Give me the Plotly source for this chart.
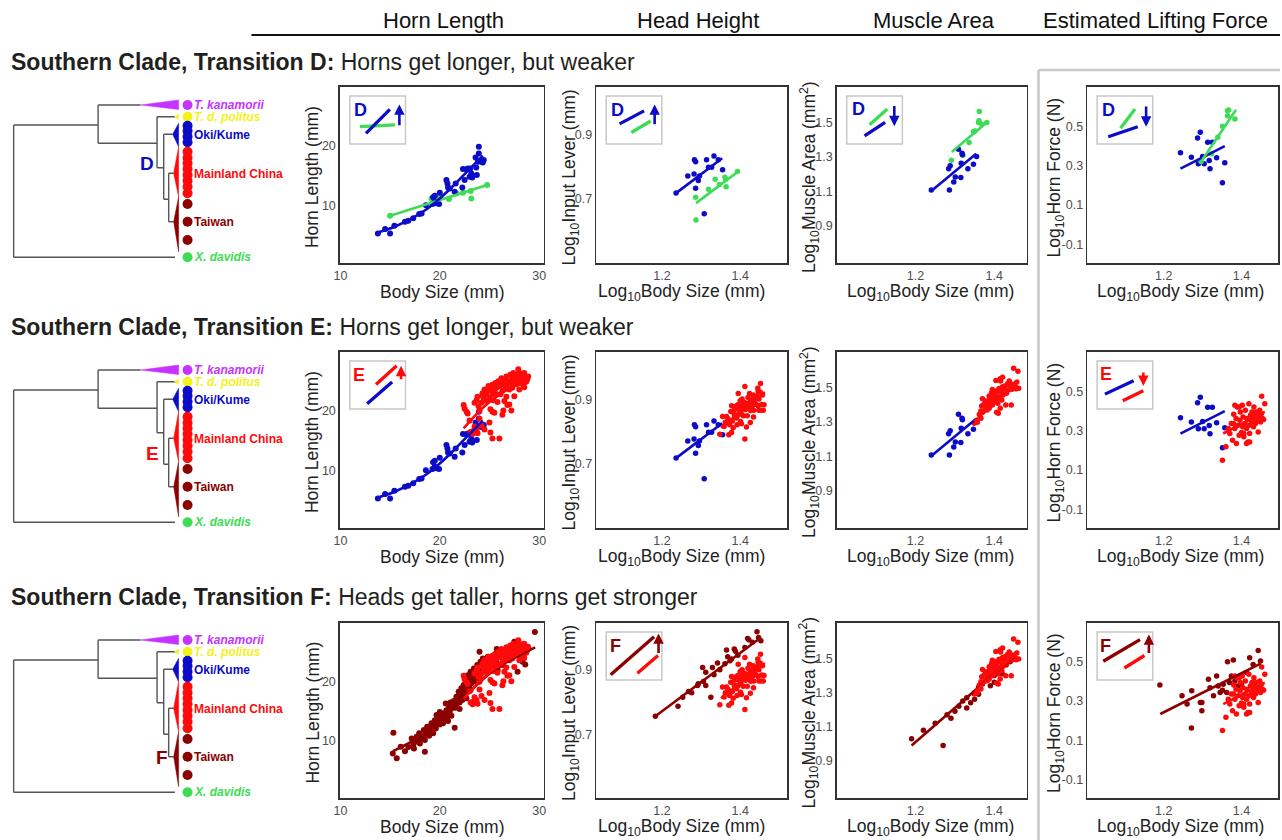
import plotly.graph_objects as go

W, H = 1282, 840
FONT = "Liberation Sans, Arial, sans-serif"

BLUE = "#0b0bc8"
GREEN = "#3ddc55"
RED = "#ff0a0a"
DRED = "#8b0000"
PURPLE = "#c633ff"
YELLOW = "#f2f21c"

# ---------------- data ----------------
# Horn length (mm) vs body size (mm)
oki_hl = [(13.77,5.36),(14.5,6.09),(15.0,5.36),(15.43,6.65),(16.5,7.32),(16.83,7.49),(17.33,7.88),(17.93,8.6),
          (18.17,8.7),(18.6,10.1),(19.27,10.28),(19.33,11.4),(19.5,11.68),(19.5,10.67),(19.67,10.4),(20.0,12.18),
          (19.93,10.28),(20.67,14.3),(20.77,13.74),(20.83,13.07),(21.0,12.9),(21.5,12.35),(21.6,13.74),(22.33,16.15),
          (22.27,13.07),(22.5,14.3),(22.67,16.1),(22.83,16.26),(23.0,14.86),(23.07,16.26),(23.17,15.42),(23.27,14.75),
          (23.67,16.4),(23.73,15.14),(23.83,17.37),(23.93,19.89),(23.93,18.77),(24.17,17.37),(24.33,17.26),(24.43,17.65),(23.6,18.1)]
oki_hl_fit = [(13.77,5.5),(15.33,6.4),(17.0,7.7),(18.67,9.4),(20.0,11.2),(21.33,13.3),(22.67,15.6),(24.33,18.4)]
dav_hl = [(15.0,8.32),(19.17,11.23),(19.5,11.06),(20.0,11.4),(20.93,11.12),(21.67,12.07),(22.33,12.18),(23.1,12.46),
          (23.17,11.23),(24.77,13.46),(19.67,10.95)]
dav_hl_fit = [(14.93,8.27),(24.77,13.46)]
main_hl = [(22.4,21.0),(22.5,20.4),(22.7,19.9),(22.8,19.6),(23.0,18.4),(23.1,16.5),(23.3,16.6),(23.3,16.2),(23.6,16.8),
           (23.7,16.9),(23.5,21.4),(23.7,21.8),(23.8,22.4),(23.9,20.8),(24.0,20.0),(24.2,21.4),(24.3,22.6),(24.3,23.0),
           (24.4,22.2),(24.5,23.6),(24.7,21.7),(24.7,22.8),(24.8,23.4),(24.9,24.2),(25.0,22.2),(25.1,20.3),(25.2,23.6),
           (25.3,22.8),(25.3,24.4),(25.4,21.8),(25.5,19.7),(25.5,23.4),(25.6,24.7),(25.7,23.9),(25.7,22.8),(25.8,21.5),
           (25.9,25.0),(26.0,24.2),(26.1,22.8),(26.2,25.5),(26.3,23.4),(26.3,24.5),(26.4,20.1),(26.5,25.2),(26.6,23.8),
           (26.7,22.4),(26.7,25.8),(26.8,24.5),(26.9,25.0),(27.0,23.6),(27.1,26.1),(27.2,24.7),(27.3,25.6),(27.3,23.9),
           (27.4,26.4),(27.5,25.2),(27.6,25.8),(27.7,24.5),(27.7,25.0),(27.8,26.1),(27.9,27.0),(28.0,25.6),(28.1,24.7),
           (28.2,26.3),(28.3,25.3),(28.3,25.8),(28.4,24.4),(28.5,26.4),(28.6,25.6),(28.7,24.9),(28.8,25.3),(28.9,25.8),
           (25.1,16.4),(25.3,15.4),(26.0,15.4),(25.3,19.9),(25.0,18.1),(24.2,17.6),(24.5,16.9),(23.8,16.3),(26.3,19.4),
           (27.2,20.1),(27.0,21.1),(26.5,21.7),(24.0,18.7),(23.5,17.4),(26.8,21.0),(27.5,22.5),(28.0,23.6),(28.5,24.0)]
main_hl_fit = [(22.4,17.1),(24.5,20.8),(26.5,23.3),(28.9,25.6)]
tai_hl = [(15.27,7.92),(15.33,11.4),(15.67,7.08),(16.07,9.04),(16.5,8.3),(16.83,9.0),(17.17,10.45),(17.33,9.33),
          (17.4,8.76),(17.6,9.89),(17.67,10.73),(17.83,10.17),(17.93,11.3),(18.0,9.6),(18.1,10.9),(18.27,10.45),
          (18.4,11.85),(18.5,8.2),(18.6,11.1),(18.73,12.4),(18.83,11.6),(18.93,10.9),(19.07,12.25),(19.17,13.0),
          (19.27,11.85),(19.4,12.7),(19.5,13.5),(19.6,12.1),(19.67,14.4),(19.83,13.3),(19.93,14.1),(20.0,12.8),
          (20.17,13.8),(20.27,14.66),(20.4,13.37),(20.5,14.4),(20.6,16.35),(20.67,15.2),(20.73,13.8),(20.83,14.66),
          (20.93,15.8),(21.0,14.9),(21.07,16.5),(21.17,15.5),(21.27,16.07),(21.4,16.74),(21.5,12.25),(21.57,15.6),
          (21.67,17.47),(21.73,16.35),(21.83,17.2),(21.9,18.3),(22.0,16.5),(22.1,17.75),(22.17,18.9),(22.27,16.9),
          (22.33,18.2),(22.4,19.44),(22.5,17.47),(22.6,20.56),(22.67,18.6),(22.73,19.7),(22.83,21.1),(22.93,19.16),
          (23.0,20.28),(23.1,21.7),(23.17,19.7),(23.27,21.2),(23.33,20.28),(23.43,22.25),(23.5,20.84),(23.6,21.8),
          (23.67,20.0),(23.77,22.8),(23.83,21.24),(23.93,22.1),(24.0,20.84),(24.1,23.37),(24.17,21.7),(24.27,22.5),
          (24.33,23.9),(24.43,22.25),(24.5,23.1),(24.6,21.7),(24.67,23.65),(24.77,22.8),(24.83,24.2),(24.93,22.25),
          (25.0,23.37),(25.17,23.9),(25.33,22.8),(25.5,24.5),(25.67,23.37),(25.83,21.97),(26.0,24.2),(26.17,25.06),
          (26.33,22.8),(26.67,24.5),(26.83,25.6),(27.0,23.65),(27.33,25.06),(27.5,26.74),(27.67,25.9),(27.83,21.7),
          (28.0,24.5),(28.17,26.2),(28.33,23.37),(28.5,25.3),(28.6,22.9),(28.83,25.9),(29.57,28.4),(20.33,12.98),
          (21.17,14.27),(22.0,15.4),(22.67,17.2),(23.1,18.6),(19.33,11.3),(18.5,10.17),(20.0,14.9),(20.83,13.37),
          (24.0,25.06),(25.73,25.5)]
tai_hl_fit = [(15.3,8.3),(19.0,11.8),(22.5,17.5),(25.5,22.0),(29.6,25.8)]

# Log10 input lever vs log10 body size
oki_il = [(1.236,0.718),(1.266,0.771),(1.283,0.821),(1.286,0.815),(1.282,0.777),(1.286,0.733),(1.293,0.757),(1.296,0.771),
          (1.314,0.821),(1.319,0.798),(1.327,0.798),(1.333,0.833),(1.344,0.821),(1.355,0.790),(1.308,0.654)]
oki_il_fit = [(1.236,0.718),(1.354,0.826)]
dav_il = [(1.286,0.705),(1.287,0.635),(1.319,0.730),(1.336,0.761),(1.347,0.745),(1.361,0.767),(1.363,0.761),
          (1.364,0.738),(1.393,0.785)]
dav_il_fit = [(1.287,0.687),(1.395,0.785)]
main_il = [(1.348,0.792),(1.355,0.847),(1.359,0.816),(1.362,0.829),(1.365,0.847),(1.369,0.840),(1.373,0.821),
           (1.376,0.862),(1.378,0.797),(1.380,0.833),(1.382,0.812),(1.385,0.852),(1.386,0.868),(1.388,0.878),
           (1.391,0.842),(1.392,0.821),(1.394,0.883),(1.395,0.852),(1.397,0.868),(1.400,0.895),(1.401,0.831),
           (1.402,0.860),(1.404,0.880),(1.405,0.901),(1.408,0.849),(1.409,0.874),(1.411,0.890),(1.412,0.777),
           (1.414,0.868),(1.416,0.886),(1.418,0.849),(1.420,0.905),(1.422,0.876),(1.424,0.890),(1.426,0.828),
           (1.427,0.865),(1.429,0.899),(1.431,0.880),(1.433,0.913),(1.435,0.866),(1.437,0.890),(1.439,0.905),
           (1.441,0.884),(1.443,0.910),(1.445,0.934),(1.446,0.880),(1.448,0.901),(1.451,0.922),(1.452,0.949),
           (1.454,0.866),(1.455,0.884),(1.457,0.913),(1.459,0.866),(1.461,0.883),(1.446,0.924),(1.412,0.939),
           (1.424,0.918),(1.395,0.918),(1.378,0.880),(1.403,0.824),(1.416,0.814),(1.386,0.852),(1.371,0.790),
           (1.448,0.866),(1.434,0.845)]
main_il_fit = [(1.351,0.812),(1.463,0.922)]
tai_il = [(1.183,0.756),(1.241,0.787),(1.253,0.815),(1.268,0.833),(1.291,0.852),(1.293,0.857),(1.306,0.864),
          (1.312,0.852),(1.312,0.893),(1.325,0.815),(1.329,0.908),(1.333,0.885),(1.342,0.922),(1.348,0.901),
          (1.361,0.919),(1.365,0.962),(1.368,0.941),(1.378,0.934),(1.385,0.965),(1.388,0.958),(1.394,0.946),
          (1.412,0.970),(1.419,0.998),(1.422,0.994),(1.431,0.986),(1.443,1.019),(1.447,1.001),(1.453,0.991),
          (1.374,0.929),(1.304,0.908),(1.276,0.829)]
tai_il_fit = [(1.183,0.756),(1.453,1.001)]

# Log10 muscle area vs log10 body size
oki_ma = [(1.240,1.108),(1.286,1.108),(1.284,1.232),(1.288,1.248),(1.297,1.154),(1.301,1.183),(1.309,1.345),
          (1.318,1.321),(1.319,1.312),(1.316,1.263),(1.315,1.180),(1.333,1.232),(1.347,1.257),(1.355,1.302)]
oki_ma_fit = [(1.240,1.102),(1.354,1.319)]
dav_ma = [(1.291,1.281),(1.320,1.310),(1.336,1.383),(1.347,1.446),(1.360,1.5),(1.362,1.564),(1.361,1.51),
          (1.368,1.49),(1.381,1.5),(1.351,1.451)]
dav_ma_fit = [(1.292,1.329),(1.383,1.504)]
main_ma = [(1.349,1.292),(1.353,1.302),(1.357,1.298),(1.362,1.344),(1.366,1.363),(1.368,1.392),(1.370,1.434),
           (1.371,1.358),(1.374,1.402),(1.376,1.389),(1.378,1.421),(1.379,1.373),(1.382,1.411),(1.385,1.392),
           (1.387,1.450),(1.388,1.431),(1.391,1.421),(1.393,1.469),(1.395,1.488),(1.397,1.450),(1.398,1.411),
           (1.399,1.473),(1.401,1.440),(1.402,1.459),(1.404,1.479),(1.405,1.431),(1.406,1.356),(1.408,1.475),
           (1.409,1.408),(1.410,1.350),(1.412,1.494),(1.413,1.446),(1.415,1.379),(1.416,1.537),(1.418,1.475),
           (1.419,1.427),(1.421,1.504),(1.422,1.456),(1.425,1.494),(1.428,1.510),(1.429,1.398),(1.431,1.467),
           (1.434,1.523),(1.436,1.486),(1.438,1.537),(1.440,1.513),(1.443,1.398),(1.445,1.490),(1.447,1.519),
           (1.449,1.612),(1.451,1.496),(1.454,1.502),(1.455,1.492),(1.457,1.531),(1.460,1.594),(1.462,1.496),
           (1.404,1.540),(1.395,1.398),(1.382,1.369),(1.421,1.560),(1.415,1.550),(1.387,1.379),(1.366,1.321)]
main_ma_fit = [(1.349,1.302),(1.462,1.542)]
tai_ma = [(1.19,1.03),(1.22,1.08),(1.25,1.12),(1.27,0.99),(1.28,1.17),(1.30,1.19),(1.31,1.22),(1.32,1.25),
          (1.33,1.27),(1.34,1.24),(1.35,1.30),(1.36,1.33),(1.37,1.35),(1.38,1.37),(1.39,1.34),(1.40,1.40),
          (1.41,1.43),(1.42,1.45),(1.43,1.46),(1.44,1.48),(1.45,1.50),(1.33,1.21),(1.36,1.29),(1.38,1.41),
          (1.40,1.36),(1.42,1.41),(1.29,1.15),(1.35,1.26)]
tai_ma_fit = [(1.19,0.99),(1.45,1.51)]

# Log10 horn force vs log10 body size
oki_hf = [(1.243,0.365),(1.271,0.343),(1.287,0.441),(1.294,0.470),(1.289,0.309),(1.300,0.346),(1.304,0.309),
          (1.313,0.419),(1.317,0.326),(1.319,0.284),(1.325,0.419),(1.336,0.340),(1.351,0.213),(1.357,0.314)]
oki_hf_fit = [(1.243,0.284),(1.357,0.399)]
dav_hf = [(1.296,0.321),(1.323,0.360),(1.339,0.444),(1.351,0.5),(1.364,0.579),(1.364,0.554),(1.367,0.583),(1.383,0.537)]
dav_hf_fit = [(1.294,0.314),(1.386,0.584)]
main_hf = [(1.351,0.149),(1.360,0.217),(1.370,0.285),(1.374,0.336),(1.377,0.251),(1.380,0.383),(1.383,0.310),
           (1.386,0.361),(1.387,0.234),(1.389,0.420),(1.391,0.327),(1.394,0.276),(1.396,0.353),(1.397,0.395),
           (1.400,0.290),(1.402,0.429),(1.403,0.319),(1.404,0.369),(1.406,0.268),(1.409,0.336),(1.410,0.403),
           (1.413,0.310),(1.414,0.361),(1.417,0.242),(1.419,0.437),(1.420,0.327),(1.421,0.285),(1.423,0.378),
           (1.426,0.344),(1.427,0.395),(1.430,0.361),(1.431,0.319),(1.434,0.378),(1.436,0.336),(1.438,0.395),
           (1.440,0.353),(1.443,0.293),(1.445,0.366),(1.447,0.403),(1.449,0.344),(1.451,0.386),(1.454,0.361),
           (1.457,0.356),(1.460,0.437),(1.394,0.420),(1.383,0.429),(1.421,0.242),(1.413,0.234),(1.406,0.285),
           (1.432,0.420),(1.379,0.336),(1.366,0.310),(1.452,0.475)]
main_hf_fit = [(1.353,0.285),(1.460,0.395)]
tai_hf = [(1.190,0.383),(1.247,0.327),(1.260,0.285),(1.272,0.353),(1.271,0.163),(1.294,0.293),(1.298,0.293),
          (1.298,0.251),(1.315,0.412),(1.319,0.369),(1.328,0.327),(1.336,0.429),(1.340,0.378),(1.345,0.344),
          (1.351,0.356),(1.362,0.344),(1.364,0.502),(1.369,0.395),(1.374,0.429),(1.379,0.510),(1.383,0.403),
          (1.396,0.429),(1.400,0.386),(1.421,0.522),(1.430,0.488),(1.443,0.559),(1.449,0.505),(1.413,0.446),
          (1.391,0.378),(1.353,0.386)]
tai_hf_fit = [(1.191,0.234),(1.449,0.492)]

# axis setup per column
col_x_ranges = [[9.95, 30.45], [1.032, 1.52], [1.0, 1.482], [1.003, 1.494]]
col_y_ranges = [[0.4, 29.9], [0.502, 1.046], [0.684, 1.706], [-0.196, 0.70]]
col_x_ticks = [[10, 20, 30], [1.2, 1.4], [1.2, 1.4], [1.2, 1.4]]
col_x_ticktext = [["10", "20", "30"], ["1.2", "1.4"], ["1.2", "1.4"], ["1.2", "1.4"]]
col_y_ticks = [[10, 20], [0.7, 0.9], [0.9, 1.1, 1.3, 1.5], [-0.1, 0.1, 0.3, 0.5]]
col_y_ticktext = [["10", "20"], ["0.7", "0.9"], ["0.9", "1.1", "1.3", "1.5"], ["-0.1", "0.1", "0.3", "0.5"]]
col_x_titles = ["Body Size (mm)", "Log<sub>10</sub>Body Size (mm)", "Log<sub>10</sub>Body Size (mm)",
                "Log<sub>10</sub>Body Size (mm)"]
col_y_titles = ["Horn Length (mm)", "Log<sub>10</sub>Input Lever (mm)",
                "Log<sub>10</sub>Muscle Area (mm<sup>2</sup>)", "Log<sub>10</sub>Horn Force (N)"]
headers = ["Horn Length", "Head Height", "Muscle Area", "Estimated Lifting Force"]
row_bold = ["Southern Clade, Transition D:", "Southern Clade, Transition E:", "Southern Clade, Transition F:"]
row_rest = ["Horns get longer, but weaker", "Horns get longer, but weaker", "Heads get taller, horns get stronger"]

# tree (tip names, colours)
tip_labels = ["<i>T. kanamorii</i>", "<i>T. d. politus</i>", "Oki/Kume", "Mainland China", "Taiwan", "<i>X. davidis</i>"]
tip_colors = [PURPLE, YELLOW, BLUE, RED, DRED, GREEN]
transition_letters = ["D", "E", "F"]
transition_colors = [BLUE, RED, DRED]

# ---------------- layout helpers ----------------
def px(x):
    return x / W

def py(y):
    return 1 - y / H

col_px = [(336, 541), (594, 786), (836, 1027), (1088, 1280)]
row_px = [(87, 263), (352, 528), (623, 798)]
col_ytitle_x = [308, 568, 808, 1056]
col_xtitle_x = [438.5, 680, 930, 1182]
header_x = [440, 696, 934]

fig = go.Figure()
layout = dict(width=W, height=H, margin=dict(l=0, r=0, t=0, b=0), paper_bgcolor="white",
              plot_bgcolor="white", showlegend=False, font=dict(family=FONT, color="#222"),
              hovermode=False)
annotations = []
shapes = []


def axname(k, a):
    return f"{a}axis" if k == 1 else f"{a}axis{k}"


def ref(k, a):
    return a if k == 1 else f"{a}{k}"


for r in range(3):
    for c in range(4):
        k = r * 4 + c + 1
        x0, x1 = col_px[c]
        y0, y1 = row_px[r]
        common = dict(showgrid=False, zeroline=False, showline=True, mirror=True, linecolor="#333",
                      linewidth=1.6, ticks="", tickfont=dict(size=12.5, color="#4d4d4d", family=FONT),
                      fixedrange=True)
        layout[axname(k, "x")] = dict(domain=[px(x0), px(x1)], range=col_x_ranges[c], anchor=ref(k, "y"),
                                      tickvals=col_x_ticks[c], ticktext=col_x_ticktext[c], **common)
        layout[axname(k, "y")] = dict(domain=[py(y1), py(y0)], range=col_y_ranges[c], anchor=ref(k, "x"),
                                      tickvals=col_y_ticks[c], ticktext=col_y_ticktext[c], **common)
        annotations.append(dict(xref="paper", yref="paper", x=px(col_xtitle_x[c]), y=py(y1 + 29),
                                text=col_x_titles[c], showarrow=False, xanchor="center", yanchor="middle",
                                font=dict(size=17.5, color="#222")))
        annotations.append(dict(xref="paper", yref="paper", x=px(col_ytitle_x[c]), y=py((y0 + y1) / 2 + 2),
                                text=col_y_titles[c], showarrow=False, textangle=-90, xanchor="center",
                                yanchor="middle", font=dict(size=17.5, color="#222")))


def add_pts(k, data, color, size):
    xs, ys = zip(*data)
    fig.add_trace(go.Scatter(x=list(xs), y=list(ys), mode="markers", xaxis=ref(k, "x"), yaxis=ref(k, "y"),
                             marker=dict(color=color, size=size, line=dict(width=0)), hoverinfo="skip"))


def add_fit(k, data, color, spline=False):
    xs, ys = zip(*data)
    fig.add_trace(go.Scatter(x=list(xs), y=list(ys), mode="lines", xaxis=ref(k, "x"), yaxis=ref(k, "y"),
                             line=dict(color=color, width=2.6, shape="spline" if spline else "linear"),
                             hoverinfo="skip"))


S1, S2 = 6, 5.5
# Row D
add_pts(1, dav_hl, GREEN, S1); add_pts(1, oki_hl, BLUE, S1)
add_fit(1, dav_hl_fit, GREEN); add_fit(1, oki_hl_fit, BLUE, True)
add_pts(2, dav_il, GREEN, S2); add_pts(2, oki_il, BLUE, S2)
add_fit(2, dav_il_fit, GREEN); add_fit(2, oki_il_fit, BLUE)
add_pts(3, dav_ma, GREEN, S2); add_pts(3, oki_ma, BLUE, S2)
add_fit(3, dav_ma_fit, GREEN); add_fit(3, oki_ma_fit, BLUE)
add_pts(4, oki_hf, BLUE, S2); add_pts(4, dav_hf, GREEN, S2)
add_fit(4, oki_hf_fit, BLUE); add_fit(4, dav_hf_fit, GREEN)
# Row E
add_pts(5, oki_hl, BLUE, S1); add_pts(5, main_hl, RED, S1)
add_fit(5, oki_hl_fit, BLUE, True); add_fit(5, main_hl_fit, RED, True)
add_pts(6, oki_il, BLUE, S2); add_pts(6, main_il, RED, S2)
add_fit(6, oki_il_fit, BLUE); add_fit(6, main_il_fit, RED)
add_pts(7, oki_ma, BLUE, S2); add_pts(7, main_ma, RED, S2)
add_fit(7, oki_ma_fit, BLUE); add_fit(7, main_ma_fit, RED)
add_pts(8, oki_hf, BLUE, S2); add_pts(8, main_hf, RED, S2)
add_fit(8, oki_hf_fit, BLUE); add_fit(8, main_hf_fit, RED)
# Row F
add_pts(9, tai_hl, DRED, S1); add_pts(9, main_hl, RED, S1)
add_fit(9, tai_hl_fit, DRED, True); add_fit(9, main_hl_fit, RED, True)
add_pts(10, tai_il, DRED, S2); add_pts(10, main_il, RED, S2)
add_fit(10, tai_il_fit, DRED); add_fit(10, main_il_fit, RED)
add_pts(11, tai_ma, DRED, S2); add_pts(11, main_ma, RED, S2)
add_fit(11, tai_ma_fit, DRED); add_fit(11, main_ma_fit, RED)
add_pts(12, tai_hf, DRED, S2); add_pts(12, main_hf, RED, S2)
add_fit(12, tai_hf_fit, DRED); add_fit(12, main_hf_fit, RED)

# ---------------- phylogeny (drawn on hidden axes, 1 unit = 1 px) ----------------
branches = [((10.7, 35), (10.7, 167.3)), ((10.7, 167.3), (173, 167.3)), ((10.7, 35), (95.7, 35)),
            ((95.7, 15), (95.7, 53.3)), ((95.7, 15), (138.3, 15)), ((95.7, 53.3), (155, 53.3)),
            ((155, 26.7), (155, 77.7)), ((155, 26.7), (173.3, 26.7)), ((155, 77.7), (161.7, 77.7)),
            ((161.7, 44.3), (161.7, 109.3)), ((161.7, 44.3), (170.7, 44.3)), ((161.7, 109.3), (166.7, 109.3)),
            ((166.7, 83.3), (166.7, 131.7)), ((166.7, 83.3), (171.7, 83.3)), ((166.7, 131.7), (171.7, 131.7))]
clade_triangles = [([(138.3, 15), (176.7, 10), (176.7, 19.5)], PURPLE),
                   ([(172.5, 26.7), (176.7, 24), (176.7, 29.5)], YELLOW),
                   ([(170.7, 44.3), (176.7, 33.3), (176.7, 56.7)], BLUE),
                   ([(171.7, 83.3), (176.7, 56.7), (176.7, 106.7)], RED),
                   ([(171.7, 131.7), (176.7, 106.7), (176.7, 161.7)], DRED)]
tip_dot_y = [15, 26.7, 35.7, 41, 46.7, 52.3, 61.7, 67.7, 73.3, 79, 85, 90.7, 96.7, 103.3, 114, 131.7, 150, 167.3]
tip_dot_c = [PURPLE, YELLOW, BLUE, BLUE, BLUE, BLUE, RED, RED, RED, RED, RED, RED, RED, RED, DRED, DRED, DRED, GREEN]
tip_label_y = [15, 26.7, 45, 84.3, 131.7, 167.3]
transition_pos = [(145, 73.3), (150, 98), (160, 132)]
tree_top = [90, 355, 625]

for r in range(3):
    k = 13 + r
    T = tree_top[r]
    layout[axname(k, "x")] = dict(domain=[0, px(260)], range=[3, 263], anchor=ref(k, "y"), visible=False,
                                  fixedrange=True)
    layout[axname(k, "y")] = dict(domain=[py(T + 180), py(T)], range=[180, 0], anchor=ref(k, "x"),
                                  visible=False, fixedrange=True)
    bx, by = [], []
    for (a, b) in branches:
        bx += [a[0], b[0], None]
        by += [a[1], b[1], None]
    fig.add_trace(go.Scatter(x=bx, y=by, mode="lines", xaxis=ref(k, "x"), yaxis=ref(k, "y"),
                             line=dict(color="#555555", width=1.4), hoverinfo="skip"))
    for pts_, col in clade_triangles:
        tx = [p[0] for p in pts_] + [pts_[0][0]]
        ty = [p[1] for p in pts_] + [pts_[0][1]]
        fig.add_trace(go.Scatter(x=tx, y=ty, mode="lines", fill="toself", fillcolor=col,
                                 line=dict(color=col, width=0.5), xaxis=ref(k, "x"), yaxis=ref(k, "y"),
                                 hoverinfo="skip"))
    fig.add_trace(go.Scatter(x=[185.7] * len(tip_dot_y), y=tip_dot_y, mode="markers", xaxis=ref(k, "x"),
                             yaxis=ref(k, "y"), marker=dict(color=tip_dot_c, size=10, line=dict(width=0)),
                             hoverinfo="skip"))
    for lab, col, yy in zip(tip_labels, tip_colors, tip_label_y):
        annotations.append(dict(xref=ref(k, "x"), yref=ref(k, "y"), x=190, y=yy, text=f"<b>{lab}</b>",
                                showarrow=False, xanchor="left", yanchor="middle",
                                font=dict(size=12, color=col)))
    tx_, ty_ = transition_pos[r]
    annotations.append(dict(xref=ref(k, "x"), yref=ref(k, "y"), x=tx_, y=ty_,
                            text=f"<b>{transition_letters[r]}</b>", showarrow=False, xanchor="center",
                            yanchor="middle", font=dict(size=19, color=transition_colors[r])))

# ---------------- inset keys ----------------
insets = [
    (0, 0, "D", BLUE, (0.2, 0.3), [(GREEN, 0.18, 0.64, 0.81, 0.60), (BLUE, 0.29, 0.78, 0.72, 0.28)], (BLUE, 0.89, 0.64, 0.175)),
    (0, 1, "D", BLUE, (0.2, 0.3), [(BLUE, 0.24, 0.58, 0.68, 0.31), (GREEN, 0.45, 0.76, 0.80, 0.52)], (BLUE, 0.87, 0.62, 0.175)),
    (0, 2, "D", BLUE, (0.21, 0.27), [(GREEN, 0.41, 0.60, 0.73, 0.27), (BLUE, 0.32, 0.83, 0.69, 0.55)], (BLUE, 0.855, 0.175, 0.63)),
    (0, 3, "D", BLUE, (0.21, 0.29), [(GREEN, 0.42, 0.67, 0.68, 0.27), (BLUE, 0.20, 0.85, 0.73, 0.64)], (BLUE, 0.88, 0.19, 0.64)),
    (1, 0, "E", RED, (0.16, 0.3), [(RED, 0.47, 0.49, 0.84, 0.10), (BLUE, 0.31, 0.89, 0.76, 0.44)], (RED, 0.92, 0.41, 0.10)),
    (1, 3, "E", RED, (0.16, 0.28), [(BLUE, 0.14, 0.69, 0.655, 0.41), (RED, 0.46, 0.83, 0.83, 0.62)], (RED, 0.83, 0.21, 0.52)),
    (2, 1, "F", DRED, (0.16, 0.3), [(DRED, 0.08, 0.89, 0.86, 0.10), (RED, 0.56, 0.86, 0.93, 0.49)], (DRED, 0.94, 0.47, 0.03)),
    (2, 3, "F", DRED, (0.15, 0.3), [(DRED, 0.11, 0.61, 0.77, 0.16), (RED, 0.49, 0.75, 0.85, 0.49)], (DRED, 0.93, 0.47, 0.05)),
]
BW, BH = 56, 48
for (r, c, letter, lcol, lpos, segs, arrow) in insets:
    bl = col_px[c][0] + 10
    bt = row_px[r][0] + 9
    shapes.append(dict(type="rect", xref="paper", yref="paper", x0=px(bl), x1=px(bl + BW), y0=py(bt + BH),
                       y1=py(bt), line=dict(color="#c8c8c8", width=1.5), fillcolor="white", layer="above"))
    annotations.append(dict(xref="paper", yref="paper", x=px(bl + lpos[0] * BW), y=py(bt + lpos[1] * BH),
                            text=f"<b>{letter}</b>", showarrow=False, xanchor="center", yanchor="middle",
                            font=dict(size=18, color=lcol)))
    for (sc, u0, v0, u1, v1) in segs:
        shapes.append(dict(type="line", xref="paper", yref="paper", x0=px(bl + u0 * BW), y0=py(bt + v0 * BH),
                           x1=px(bl + u1 * BW), y1=py(bt + v1 * BH), line=dict(color=sc, width=3.3),
                           layer="above"))
    acol, au, av0, av1 = arrow
    annotations.append(dict(xref="paper", yref="paper", x=px(bl + au * BW), y=py(bt + av1 * BH), text="",
                            showarrow=True, ax=0, ay=(av0 - av1) * BH, axref="pixel", ayref="pixel",
                            arrowhead=2, arrowsize=0.8, arrowwidth=2.6, arrowcolor=acol, standoff=0,
                            startstandoff=0))

# ---------------- headers, row titles, frames ----------------
for i, h in enumerate(headers):
    if i < 3:
        annotations.append(dict(xref="paper", yref="paper", x=px(header_x[i]), y=py(20), text=h,
                                showarrow=False, xanchor="center", yanchor="middle",
                                font=dict(size=22, color="#111")))
    else:
        annotations.append(dict(xref="paper", yref="paper", x=px(1041), y=py(20), text=h, showarrow=False,
                                xanchor="left", yanchor="middle", font=dict(size=22, color="#111")))
shapes.append(dict(type="line", xref="paper", yref="paper", x0=px(247), x1=px(1282), y0=py(35), y1=py(35),
                   line=dict(color="#111", width=2)))
row_title_y = [62, 327, 597]
for r in range(3):
    annotations.append(dict(xref="paper", yref="paper", x=px(3), y=py(row_title_y[r]),
                            text=f"<b>{row_bold[r]}</b> {row_rest[r]}", showarrow=False, xanchor="left",
                            yanchor="middle", font=dict(size=23, color="#231f20")))
shapes.append(dict(type="line", xref="paper", yref="paper", x0=px(1039), x1=px(1039), y0=py(70), y1=py(840),
                   line=dict(color="#c8c8c8", width=2.5)))
shapes.append(dict(type="line", xref="paper", yref="paper", x0=px(1039), x1=px(1282), y0=py(70), y1=py(70),
                   line=dict(color="#c8c8c8", width=2.5)))

layout["annotations"] = annotations
layout["shapes"] = shapes
fig.update_layout(**layout)

fig.write_html("out.html", config={"displayModeBar": False, "staticPlot": True},
               post_script="document.body.style.margin='0';document.body.style.overflow='hidden';")
